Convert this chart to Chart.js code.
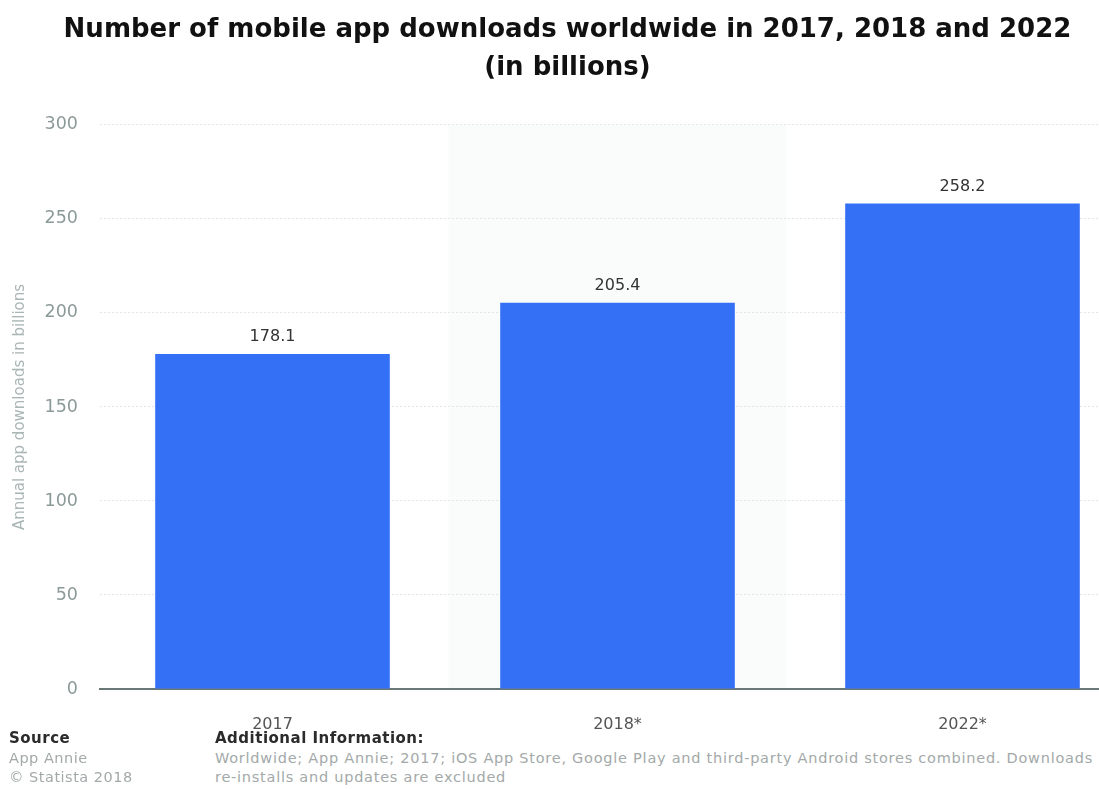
<!DOCTYPE html>
<html>
<head>
<meta charset="utf-8">
<script src="https://cdn.jsdelivr.net/npm/chart.js@4/dist/chart.umd.min.js"></script>
<style>
  html, body { margin: 0; padding: 0; background: #fff; overflow: hidden; }
  #wrap { position: absolute; left: 0; top: 0; width: 1140px; height: 730px; }
  .foot { position: absolute; font-family: 'DejaVu Sans', sans-serif; white-space: nowrap; }
  .head { color: #2b2b2b; font-size: 15px; font-weight: bold; letter-spacing: 0.5px; }
  .left { color: #a3a9a9; font-size: 14.5px; line-height: 19px; letter-spacing: 0.5px; }
  .info { color: #a3a9a9; font-size: 14.5px; line-height: 19px; letter-spacing: 0.75px; }
</style>
</head>
<body>
<div id="wrap"><canvas id="chart"></canvas></div>
<div class="foot head" style="left:9px; top:729px;">Source</div>
<div class="foot left" style="left:9px; top:749px;">App Annie<br>© Statista 2018</div>
<div class="foot head" style="left:215px; top:729px;">Additional Information:</div>
<div class="foot info" style="left:215px; top:749px;">Worldwide; App Annie; 2017; iOS App Store, Google Play and third-party Android stores combined. Downloads<br>re-installs and updates are excluded</div>
<script>
// Chart data
const years = ['2017', '2018*', '2022*'];
const downloads = [178.1, 205.4, 258.2];
const yTicks = [0, 50, 100, 150, 200, 250, 300];

// light band behind the middle column
const bandPlugin = {
    id: 'band',
    beforeDraw: (chart) => {
        const { ctx, chartArea, scales } = chart;
        const x = scales.x.getPixelForValue(1);
        const w = (chartArea.right - chartArea.left) / years.length * 0.98;
        ctx.save();
        ctx.fillStyle = '#fafbfb';
        ctx.fillRect(x - w / 2, chartArea.top, w, chartArea.bottom - chartArea.top);
        ctx.restore();
    }
};

// value labels above the bars
const valueLabels = {
    id: 'valueLabels',
    afterDatasetsDraw: (chart) => {
        const { ctx } = chart;
        const meta = chart.getDatasetMeta(0);
        ctx.save();
        ctx.font = '16px "DejaVu Sans", sans-serif';
        ctx.fillStyle = '#333';
        ctx.textAlign = 'center';
        ctx.textBaseline = 'middle';
        meta.data.forEach((bar, i) => {
            ctx.fillText(downloads[i].toFixed(1), bar.x, bar.y - 17);
        });
        ctx.restore();
    }
};

new Chart(document.getElementById('chart'), {
    type: 'bar',
    data: {
        labels: years,
        datasets: [{
            data: downloads,
            backgroundColor: '#3470f6',
            categoryPercentage: 1,
            barPercentage: 0.68
        }]
    },
    options: {
        responsive: true,
        maintainAspectRatio: false,
        animation: false,
        layout: { padding: { left: 0, right: 5, top: 0, bottom: 0 } },
        plugins: {
            legend: { display: false },
            tooltip: { enabled: false },
            title: {
                display: true,
                text: ['Number of mobile app downloads worldwide in 2017, 2018 and 2022', '(in billions)'],
                color: '#111',
                font: { family: 'DejaVu Sans', size: 26, weight: 'bold', lineHeight: 1.46 },
                padding: { top: 11, bottom: 38 }
            }
        },
        scales: {
            y: {
                min: 0,
                max: 300,
                afterBuildTicks: (scale) => {
                    scale.ticks = yTicks.map(v => ({ value: v }));
                },
                afterFit: (scale) => { scale.width = 100; },
                grid: {
                    color: '#e3e6e6',
                    lineWidth: 1,
                    drawTicks: false
                },
                border: { display: false, dash: [2, 2] },
                ticks: {
                    color: '#8c9999',
                    padding: 22,
                    font: { family: 'DejaVu Sans', size: 17.5 }
                },
                title: {
                    display: true,
                    text: 'Annual app downloads in billions',
                    color: '#aab5b5',
                    font: { family: 'DejaVu Sans', size: 15 },
                    padding: { top: 11, bottom: 0 }
                }
            },
            x: {
                afterFit: (scale) => { scale.height = 41; },
                grid: { display: false },
                border: { display: true, color: '#6b7878', width: 2 },
                ticks: {
                    color: '#555',
                    padding: 18,
                    font: { family: 'DejaVu Sans', size: 16 }
                }
            }
        }
    },
    plugins: [bandPlugin, valueLabels]
});
</script>
</body>
</html>
